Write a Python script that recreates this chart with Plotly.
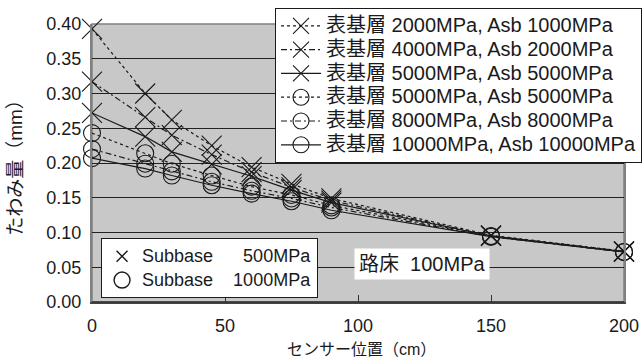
import plotly.graph_objects as go

# Sensor positions (cm) and deflection (mm) for each pavement configuration
sensor_pos = [0, 20, 30, 45, 60, 75, 90, 150, 200]

defl_2000_1000 = [0.393, 0.300, 0.262, 0.225, 0.194, 0.170, 0.149, 0.096, 0.073]
defl_4000_2000 = [0.317, 0.266, 0.240, 0.212, 0.187, 0.165, 0.146, 0.095, 0.073]
defl_5000_5000x = [0.272, 0.238, 0.216, 0.198, 0.181, 0.161, 0.143, 0.095, 0.072]
defl_5000_5000o = [0.243, 0.214, 0.199, 0.182, 0.166, 0.154, 0.139, 0.095, 0.072]
defl_8000_8000 = [0.220, 0.199, 0.188, 0.173, 0.160, 0.149, 0.136, 0.094, 0.072]
defl_10000_10000 = [0.207, 0.192, 0.182, 0.168, 0.156, 0.145, 0.132, 0.094, 0.072]

series_names = [
    "表基層 2000MPa, Asb 1000MPa",
    "表基層 4000MPa, Asb 2000MPa",
    "表基層 5000MPa, Asb 5000MPa",
    "表基層 5000MPa, Asb 5000MPa",
    "表基層 8000MPa, Asb 8000MPa",
    "表基層 10000MPa, Asb 10000MPa",
]
series_values = [defl_2000_1000, defl_4000_2000, defl_5000_5000x,
                 defl_5000_5000o, defl_8000_8000, defl_10000_10000]
series_dash = ["dot", "6px,3px,2px,3px", "solid", "dot", "6px,3px,2px,3px", "solid"]
series_symbol = ["x-thin-open"] * 3 + ["circle-open"] * 3

NB = "\u00a0"
subbase_labels = [f"Subbase{NB * 6}500MPa", f"Subbase{NB * 4}1000MPa"]
subgrade_label = f"路床{NB * 2}100MPa"
x_title = "センサー位置（cm）"
y_title = "たわみ量（mm）"

x_ticks = [0, 50, 100, 150, 200]
y_ticks = [0.00, 0.05, 0.10, 0.15, 0.20, 0.25, 0.30, 0.35, 0.40]

FONT = "Liberation Sans, Arial, Noto Sans CJK JP, sans-serif"
INK = "#1a1a1a"


def big(text, px):
    return f'<span style="font-size:{px}px">{text}</span>'


fig = go.Figure()

for name, vals, dash, sym in zip(series_names, series_values, series_dash, series_symbol):
    is_x = sym.startswith("x")
    fig.add_trace(go.Scatter(
        x=sensor_pos, y=vals, name=big(name, 20), mode="lines+markers",
        line=dict(color=INK, width=1.2, dash=dash),
        marker=dict(symbol=sym, size=20 if is_x else 17,
                    color=INK, line=dict(color=INK, width=1.1)),
        cliponaxis=False, legend="legend",
    ))

# Marker key for subbase stiffness
for label, sym in zip(subbase_labels, ["x-thin-open", "circle-open"]):
    fig.add_trace(go.Scatter(
        x=[None], y=[None], name=big(label, 18), mode="markers",
        marker=dict(symbol=sym, size=11 if sym.startswith("x") else 16,
                    color=INK, line=dict(color=INK, width=1.4)),
        legend="legend2",
    ))

fig.add_annotation(
    x=124, y=0.054, xref="x", yref="y", text=subgrade_label,
    showarrow=False, bgcolor="white", borderpad=4,
    font=dict(family=FONT, size=20, color=INK),
)
# axis titles
fig.add_annotation(
    x=0.507, y=-0.171, xref="paper", yref="paper", text=x_title,
    showarrow=False, xanchor="center", yanchor="middle", borderpad=0,
    font=dict(family=FONT, size=16, color=INK),
)
fig.add_annotation(
    x=-0.145, y=0.5, xref="paper", yref="paper", text=y_title, textangle=-90,
    showarrow=False, xanchor="center", yanchor="middle",
    font=dict(family=FONT, size=19, color=INK),
)

fig.update_layout(
    width=642, height=360,
    margin=dict(l=92, r=18, t=24, b=58, autoexpand=False),
    paper_bgcolor="white", plot_bgcolor="#c8c8c8",
    font=dict(family=FONT, size=18, color=INK),
    showlegend=True,
    legend=dict(
        x=0.344, xanchor="left", y=1.058, yanchor="top",
        bgcolor="white", bordercolor=INK, borderwidth=1,
        font=dict(family=FONT, size=16, color=INK),
        tracegroupgap=0, itemwidth=40,
    ),
    legend2=dict(
        x=0.017, xanchor="left", y=0.229, yanchor="top",
        bgcolor="white", bordercolor=INK, borderwidth=1,
        font=dict(family=FONT, size=16, color=INK),
        itemwidth=30,
    ),
    xaxis=dict(
        range=[0, 200], tickvals=x_ticks, ticktext=[str(v) for v in x_ticks],
        ticks="inside", ticklen=7, tickcolor="#333", showgrid=False, zeroline=False,
        showline=True, linecolor="#444", linewidth=1.5, mirror=False,
        ticklabelstandoff=7, automargin=False,
    ),
    yaxis=dict(
        range=[0, 0.40], tickvals=y_ticks, ticktext=[f"{v:.2f}{NB}" for v in y_ticks],
        showgrid=True, gridcolor="#222", gridwidth=1, zeroline=False,
        showline=True, linecolor="#808080", linewidth=2, mirror=True,
        ticks="", automargin=False,
    ),
)
# grey frame round the plot area, dark base line
fig.add_shape(type="rect", xref="paper", yref="paper", x0=0, x1=1, y0=0, y1=1,
              line=dict(color="#808080", width=1.5), layer="below")
fig.add_shape(type="line", xref="paper", yref="paper", x0=0, x1=1, y0=0, y1=0,
              line=dict(color="#333", width=1.5), layer="above")

fig.write_html("out.html")
